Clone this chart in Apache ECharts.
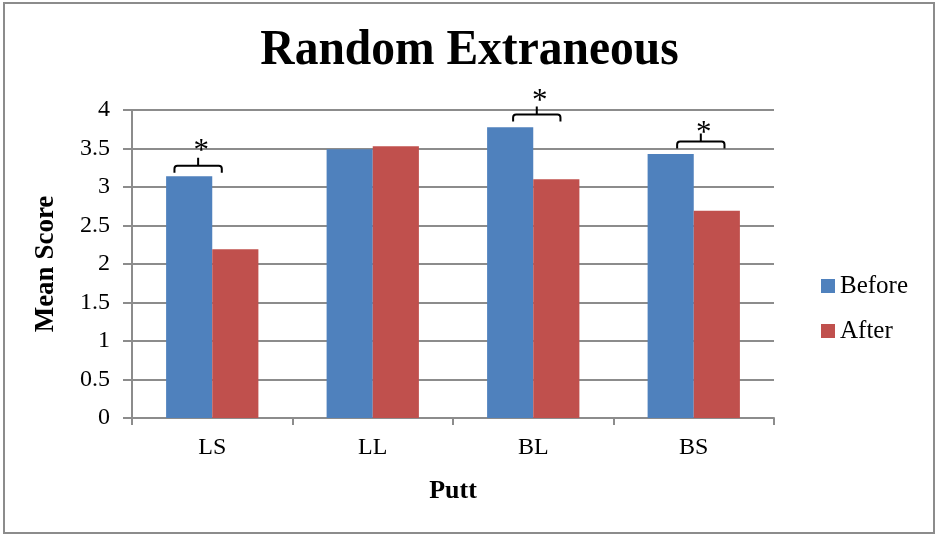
<!DOCTYPE html>
<html>
<head>
<meta charset="utf-8">
<script src="https://cdn.jsdelivr.net/npm/echarts@6/dist/echarts.min.js"></script>
<style>html,body{margin:0;padding:0;background:#fff;}#c{width:936px;height:535px;}</style>
</head>
<body>
<div id="c"></div>
<script>
var categories = ['LS', 'LL', 'BL', 'BS'];
var beforeValues = [3.14, 3.49, 3.775, 3.43];
var afterValues = [2.19, 3.53, 3.10, 2.69];
var yTicks = [0, 0.5, 1, 1.5, 2, 2.5, 3, 3.5, 4];
// significance braces: category index, brace level, star level, horizontal shift (fraction of band)
var braceCats = [0, 2, 3];
var braceLevels = [3.277, 3.94, 3.59];
var starLevels = [3.53, 4.18, 3.77];
var braceShift = [-0.088, 0.022, 0.044];

var FONT = '"Liberation Serif", "Times New Roman", serif';
var AX = '#8c8c8c';
var chart = echarts.init(document.getElementById('c'));

var braceData = braceCats.map(function (c, i) { return [c, braceLevels[i], starLevels[i], braceShift[i]]; });

chart.setOption({
  animation: false,
  legend: {
    orient: 'vertical', left: 816, top: 268,
    itemWidth: 14, itemHeight: 14, itemGap: 19,
    icon: 'rect',
    textStyle: { fontFamily: FONT, fontSize: 25, color: '#000', lineHeight: 26 },
    data: ['Before', 'After']
  },
  grid: { left: 132, right: 162, top: 110, bottom: 117, containLabel: false },
  xAxis: {
    type: 'category', data: categories,
    name: 'Putt', nameLocation: 'middle', nameGap: 60,
    nameTextStyle: { fontFamily: FONT, fontSize: 26, fontWeight: 'bold', color: '#000' },
    axisLine: { lineStyle: { color: AX, width: 2 } },
    axisTick: { show: true, length: 7, lineStyle: { color: AX, width: 2 } },
    axisLabel: { fontFamily: FONT, fontSize: 24, color: '#000', margin: 18 }
  },
  yAxis: {
    type: 'value', min: yTicks[0], max: yTicks[yTicks.length - 1], interval: 0.5,
    name: 'Mean Score', nameLocation: 'middle', nameGap: 72, nameRotate: 90,
    nameTextStyle: { fontFamily: FONT, fontSize: 27, fontWeight: 'bold', color: '#000' },
    axisLine: { show: true, lineStyle: { color: AX, width: 2 } },
    axisTick: { show: true, length: 9, lineStyle: { color: AX, width: 2 } },
    axisLabel: { fontFamily: FONT, fontSize: 24, color: '#000', margin: 22,
      formatter: function (v) { return String(v); } },
    splitLine: { lineStyle: { color: AX, width: 2 } }
  },
  series: [
    { name: 'Before', type: 'bar', data: beforeValues, barGap: '0%', barCategoryGap: '42.5%',
      itemStyle: { color: '#4F81BD' } },
    { name: 'After', type: 'bar', data: afterValues, barGap: '0%', barCategoryGap: '42.5%',
      itemStyle: { color: '#C0504D' } },
    { name: 'sig', type: 'custom', data: braceData, clip: false, z: 10,
      encode: { x: 0, y: 1 },
      renderItem: function (params, api) {
        var c = api.value(0);
        var band = api.size([1, 0])[0];
        var p = api.coord([c, api.value(1)]);
        var s = api.coord([c, api.value(2)]);
        var cx = p[0] + api.value(3) * band;
        var w = band * 0.295;
        var x0 = cx - w / 2, x1 = cx + w / 2, y = p[1];
        var r = 3, drop = 7, up = 8;
        var path = 'M' + x0 + ' ' + (y + drop) + ' L' + x0 + ' ' + (y + r) +
          ' Q' + x0 + ' ' + y + ' ' + (x0 + r) + ' ' + y +
          ' L' + (x1 - r) + ' ' + y + ' Q' + x1 + ' ' + y + ' ' + x1 + ' ' + (y + r) +
          ' L' + x1 + ' ' + (y + drop) +
          ' M' + cx + ' ' + y + ' L' + cx + ' ' + (y - up);
        return {
          type: 'group',
          children: [
            { type: 'path', shape: { pathData: path },
              style: { stroke: '#000', lineWidth: 2, fill: null } },
            { type: 'text', x: cx + 3, y: s[1] + 6,
              style: { text: '*', fontFamily: FONT, fontSize: 31, fill: '#000',
                align: 'center', verticalAlign: 'middle' } }
          ]
        };
      }
    }
  ],
  graphic: [
    { type: 'rect', shape: { x: 4, y: 3, width: 930, height: 530 },
      style: { fill: null, stroke: '#8c8c8c', lineWidth: 2 }, silent: true, z: -1 },
    { type: 'text', x: 469.5, y: 76, scaleX: 0.95, originX: 0, originY: 0,
      style: { text: 'Random Extraneous', fontFamily: FONT, fontSize: 50, fontWeight: 'bold',
        fill: '#000', align: 'center', verticalAlign: 'bottom' }, silent: true }
  ]
});
</script>
</body>
</html>
